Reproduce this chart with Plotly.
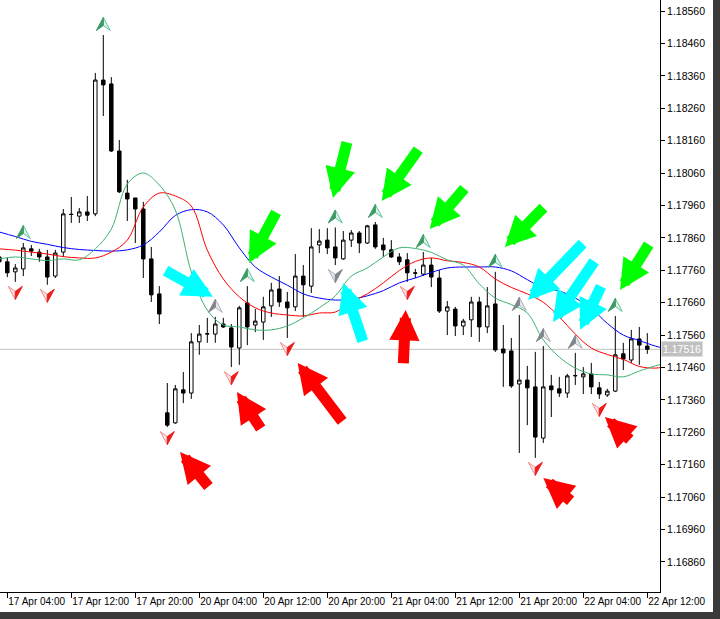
import plotly.graph_objects as go

# H1 bars, index 0 = 17 Apr 04:00 (weekend gap collapsed like in the terminal)
bars = list(range(-1, 81))

opens = [1.17801, 1.17786, 1.17755, 1.17764, 1.17826, 1.17816, 1.17801, 1.17742, 1.17816, 1.17933,
         1.17927, 1.17940, 1.17934, 1.18347, 1.18335, 1.18128, 1.17998, 1.17983, 1.17949, 1.17795,
         1.17687, 1.17320, 1.17289, 1.17391, 1.17381, 1.17539, 1.17563, 1.17563, 1.17594, 1.17582,
         1.17520, 1.17659, 1.17591, 1.17600, 1.17650, 1.17702, 1.17662, 1.17647, 1.17742, 1.17711,
         1.17838, 1.17853, 1.17832, 1.17795, 1.17853, 1.17875, 1.17844, 1.17900, 1.17838, 1.17823,
         1.17801, 1.17792, 1.17752, 1.17748, 1.17776, 1.17736, 1.17634, 1.17640, 1.17588, 1.17607,
         1.17662, 1.17585, 1.17656, 1.17517, 1.17511, 1.17409, 1.17421, 1.17400, 1.17242, 1.17403,
         1.17394, 1.17381, 1.17434, 1.17431, 1.17440, 1.17397, 1.17375, 1.17387, 1.17502, 1.17483,
         1.17548, 1.17526]
highs = [1.17810, 1.17798, 1.17779, 1.17844, 1.17838, 1.17826, 1.17823, 1.17823, 1.17949, 1.17986,
         1.17952, 1.17989, 1.18369, 1.18486, 1.18356, 1.18162, 1.18039, 1.17983, 1.17971, 1.17832,
         1.17711, 1.17412, 1.17406, 1.17446, 1.17566, 1.17591, 1.17613, 1.17616, 1.17613, 1.17594,
         1.17650, 1.17711, 1.17640, 1.17678, 1.17721, 1.17742, 1.17693, 1.17810, 1.17776, 1.17890,
         1.17887, 1.17890, 1.17892, 1.17881, 1.17884, 1.17881, 1.17900, 1.17909, 1.17860, 1.17853,
         1.17813, 1.17813, 1.17764, 1.17816, 1.17798, 1.17761, 1.17665, 1.17647, 1.17610, 1.17678,
         1.17678, 1.17708, 1.17755, 1.17591, 1.17551, 1.17622, 1.17465, 1.17508, 1.17526, 1.17437,
         1.17431, 1.17440, 1.17505, 1.17461, 1.17474, 1.17415, 1.17394, 1.17619, 1.17536, 1.17576,
         1.17585, 1.17566]
lows = [1.17773, 1.17739, 1.17724, 1.17742, 1.17804, 1.17786, 1.17715, 1.17736, 1.17801, 1.17906,
        1.17906, 1.17912, 1.17927, 1.18236, 1.18125, 1.17998, 1.17912, 1.17844, 1.17736, 1.17662,
        1.17594, 1.17276, 1.17286, 1.17350, 1.17363, 1.17499, 1.17536, 1.17536, 1.17582, 1.17461,
        1.17468, 1.17529, 1.17569, 1.17545, 1.17616, 1.17647, 1.17551, 1.17634, 1.17616, 1.17690,
        1.17813, 1.17810, 1.17776, 1.17792, 1.17832, 1.17813, 1.17841, 1.17826, 1.17801, 1.17798,
        1.17776, 1.17724, 1.17736, 1.17742, 1.17708, 1.17628, 1.17560, 1.17557, 1.17560, 1.17554,
        1.17539, 1.17566, 1.17508, 1.17400, 1.17397, 1.17196, 1.17282, 1.17181, 1.17227, 1.17307,
        1.17369, 1.17366, 1.17406, 1.17378, 1.17378, 1.17363, 1.17369, 1.17384, 1.17452, 1.17474,
        1.17468, 1.17502]
closes = [1.17786, 1.17752, 1.17767, 1.17829, 1.17819, 1.17801, 1.17739, 1.17813, 1.17934, 1.17932,
          1.17940, 1.17930, 1.18347, 1.18332, 1.18128, 1.18002, 1.17980, 1.17949, 1.17795, 1.17684,
          1.17625, 1.17282, 1.17394, 1.17381, 1.17539, 1.17563, 1.17564, 1.17594, 1.17585, 1.17523,
          1.17644, 1.17585, 1.17603, 1.17647, 1.17699, 1.17662, 1.17644, 1.17742, 1.17715, 1.17832,
          1.17850, 1.17829, 1.17798, 1.17853, 1.17875, 1.17844, 1.17897, 1.17832, 1.17823, 1.17801,
          1.17786, 1.17752, 1.17751, 1.17776, 1.17739, 1.17634, 1.17647, 1.17588, 1.17603, 1.17662,
          1.17585, 1.17650, 1.17514, 1.17505, 1.17403, 1.17421, 1.17397, 1.17245, 1.17400, 1.17391,
          1.17381, 1.17434, 1.17435, 1.17440, 1.17400, 1.17378, 1.17387, 1.17499, 1.17486, 1.17548,
          1.17529, 1.17516]

# alligator lines (jaw / teeth / lips), read every second bar
ma_bars = list(range(-1, 82, 2)) + [82]
jaw = [1.17878, 1.17864, 1.17849, 1.17840, 1.17830, 1.17824, 1.17821, 1.17819, 1.17823, 1.17838,
       1.17878, 1.17929, 1.17947, 1.17940, 1.17900, 1.17829, 1.17770, 1.17739, 1.17714, 1.17687,
       1.17674, 1.17668, 1.17670, 1.17681, 1.17697, 1.17721, 1.17736, 1.17753, 1.17767, 1.17770,
       1.17770, 1.17770, 1.17758, 1.17731, 1.17705, 1.17696, 1.17674, 1.17642, 1.17596, 1.17560,
       1.17543, 1.17526, 1.17520]
teeth = [1.17826, 1.17822, 1.17816, 1.17810, 1.17802, 1.17798, 1.17798, 1.17816, 1.17853, 1.17955,
         1.17998, 1.17989, 1.17958, 1.17822, 1.17733, 1.17678, 1.17644, 1.17628, 1.17622, 1.17619,
         1.17628, 1.17631, 1.17662, 1.17687, 1.17721, 1.17759, 1.17787, 1.17798, 1.17789, 1.17784,
         1.17770, 1.17733, 1.17707, 1.17687, 1.17661, 1.17616, 1.17563, 1.17520, 1.17500, 1.17485,
         1.17463, 1.17458, 1.17461]
lips = [1.17795, 1.17801, 1.17795, 1.17790, 1.17795, 1.17792, 1.17826, 1.17887, 1.18026, 1.18060,
        1.18023, 1.17946, 1.17755, 1.17637, 1.17591, 1.17585, 1.17576, 1.17576, 1.17588, 1.17613,
        1.17644, 1.17681, 1.17742, 1.17767, 1.17801, 1.17829, 1.17827, 1.17815, 1.17792, 1.17776,
        1.17718, 1.17674, 1.17654, 1.17628, 1.17545, 1.17492, 1.17458, 1.17440, 1.17437, 1.17431,
        1.17449, 1.17465, 1.17471]

# fractal / signal arrows (bar numbers)
up_fractals = [2, 12, 30, 41, 46, 52, 61, 76]
up_gray = [26, 64, 67, 71]
down_fractals = [1, 5, 20, 28, 35, 50, 66, 74]
down_gray = [41]

# big hand drawn arrows: tip (bar, price) and tail (bar, price)
green_tip_x = [30.2, 40.7, 46.8, 52.8, 62.2, 76.6]
green_tip_y = [1.17782, 1.17983, 1.17974, 1.17887, 1.17832, 1.17699]
green_tail_x = [33.7, 42.5, 51.5, 57.3, 67.2, 80.3]
green_tail_y = [1.17943, 1.18159, 1.18137, 1.18017, 1.17958, 1.17844]

cyan_tip_x = [25.7, 42.0, 65.1, 68.2, 71.6]
cyan_tip_y = [1.17678, 1.17721, 1.17668, 1.17600, 1.17576]
cyan_tail_x = [19.6, 44.5, 72.1, 73.5, 74.3]
cyan_tail_y = [1.17761, 1.17536, 1.17847, 1.17792, 1.17715]

red_tip_x = [21.6, 28.7, 36.3, 49.8, 67.0, 74.7]
red_tip_y = [1.17199, 1.17384, 1.17474, 1.17637, 1.17119, 1.17307]
red_tail_x = [25.3, 31.8, 42.0, 49.5, 70.6, 78.0]
red_tail_y = [1.17088, 1.17267, 1.17289, 1.17468, 1.17045, 1.17233]

tick_bars = [0, 8, 16, 24, 32, 40, 48, 56, 64, 72, 80]
tick_text = ["17 Apr 04:00", "17 Apr 12:00", "17 Apr 20:00", "20 Apr 04:00", "20 Apr 12:00",
             "20 Apr 20:00", "21 Apr 04:00", "21 Apr 12:00", "21 Apr 20:00", "22 Apr 04:00",
             "22 Apr 12:00"]
price_ticks = [1.16860 + 0.001 * k for k in range(18)]
last_price = 1.17516

FONT = "Liberation Sans"

fig = go.Figure()

fig.add_trace(go.Candlestick(
    x=bars, open=opens, high=highs, low=lows, close=closes,
    increasing=dict(line=dict(color="black", width=1), fillcolor="white"),
    decreasing=dict(line=dict(color="black", width=1), fillcolor="black"),
    whiskerwidth=0, hoverinfo="skip", showlegend=False,
))

for vals, col in [(jaw, "#0000ff"), (teeth, "#ff0000"), (lips, "#3cb371")]:
    fig.add_trace(go.Scatter(x=ma_bars, y=vals, mode="lines", line=dict(color=col, width=1, shape="spline"),
                             hoverinfo="skip", showlegend=False))


# terminal style arrow icon: notched head, one half solid, the other half light with an outline
def icon(bar, price, up, solid, light, edge):
    s = 1 if up else -1
    off = 11 * s            # pixels away from the high / low
    tip = off + 6.5 * s
    wing = off - 6.5 * s
    notch = off - 1.5 * s
    left = f"M0,{tip} L-7,{wing} L0,{notch} Z"
    right = f"M0,{tip} L0,{notch} L7,{wing} Z"
    solid_half, light_half = (left, right) if up else (right, left)
    for path, fill, lc in [(light_half, light, edge), (solid_half, solid, solid)]:
        fig.add_shape(type="path", path=path, xref="x", yref="y", xsizemode="pixel", ysizemode="pixel",
                      xanchor=bar, yanchor=price, fillcolor=fill, line=dict(color=lc, width=1))


for b in up_fractals:
    icon(b, highs[b + 1], True, "#3f9a66", "#dff3ea", "#5cc3a4")
for b in up_gray:
    icon(b, highs[b + 1], True, "#80868f", "#e6e8eb", "#a9aeb6")
for b in down_fractals:
    icon(b, lows[b + 1], False, "#ee1b1b", "#fde6e6", "#f08a8a")
for b in down_gray:
    icon(b, lows[b + 1], False, "#80868f", "#e6e8eb", "#a9aeb6")


def big_arrows(tx, ty, ax, ay, col):
    for a, b, c, d in zip(tx, ty, ax, ay):
        fig.add_annotation(x=a, y=b, ax=c, ay=d, xref="x", yref="y", axref="x", ayref="y",
                           text="", showarrow=True, arrowhead=2, arrowsize=0.55, arrowwidth=11,
                           arrowcolor=col, standoff=0)


big_arrows(green_tip_x, green_tip_y, green_tail_x, green_tail_y, "#00ff00")
big_arrows(cyan_tip_x, cyan_tip_y, cyan_tail_x, cyan_tail_y, "#00ffff")
big_arrows(red_tip_x, red_tip_y, red_tail_x, red_tail_y, "#ff0000")

# current price line and its label on the scale
fig.add_shape(type="line", xref="paper", x0=0, x1=1, yref="y", y0=last_price, y1=last_price,
              line=dict(color="#c0c0c0", width=1), layer="below")
fig.add_annotation(xref="paper", x=1, xanchor="left", xshift=1, yref="y", y=last_price,
                   text=f"{last_price:.5f}", showarrow=False, bgcolor="#c0c0c0", borderpad=1,
                   font=dict(family=FONT, size=10.5, color="white"))

# window frame
fig.add_shape(type="rect", xref="paper", yref="paper", x0=713 / 660, x1=1.1, y0=-0.05, y1=1.01,
              fillcolor="#3a3a3a", line=dict(width=0))
fig.add_shape(type="rect", xref="paper", yref="paper", x0=-0.01, x1=1.1, y0=-0.05, y1=-20 / 592,
              fillcolor="#3a3a3a", line=dict(width=0))

fig.update_layout(
    width=720, height=619,
    margin=dict(l=0, r=60, t=0, b=27),
    paper_bgcolor="white", plot_bgcolor="white",
    boxgap=0.38,
    font=dict(family=FONT, size=10.5, color="black"),
    xaxis=dict(range=[-0.9125, 81.5875], rangeslider=dict(visible=False), showgrid=False, zeroline=False,
               tickmode="array", tickvals=tick_bars, ticktext=tick_text, ticks="outside", ticklen=5,
               tickcolor="black", ticklabelposition="outside right", tickangle=0, automargin=False,
               showline=True, linecolor="black", linewidth=1, tickfont=dict(size=10)),
    yaxis=dict(range=[1.16767, 1.18594], side="right", showgrid=False, zeroline=False,
               tickmode="array", tickvals=price_ticks, ticktext=[f"{v:.5f}" for v in price_ticks],
               ticks="outside", ticklen=4, tickcolor="black", showline=True, linecolor="black",
               linewidth=1, automargin=False, tickfont=dict(size=10.5)),
)

# page body has a default margin; drop it so the figure sits at the window corner
fig.write_html("out.html", config={"displayModeBar": False},
               post_script="document.body.style.margin='0';")
